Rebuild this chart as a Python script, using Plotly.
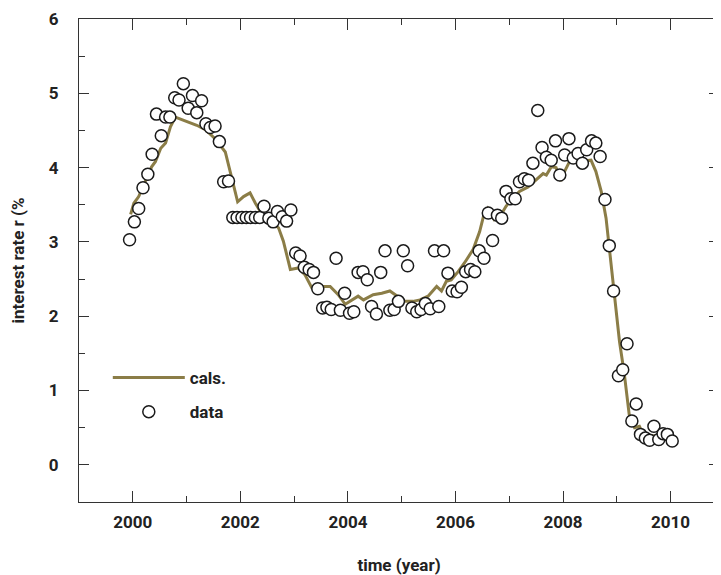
import plotly.graph_objects as go

# observed data (monthly), decimal year
data_t = [1999.94, 2000.03, 2000.11, 2000.19, 2000.28, 2000.36, 2000.44, 2000.53, 2000.61, 2000.69,
          2000.78, 2000.86, 2000.94, 2001.03, 2001.11, 2001.19, 2001.28, 2001.36, 2001.44, 2001.53,
          2001.61, 2001.69, 2001.78, 2001.86, 2001.94, 2002.03, 2002.11, 2002.19, 2002.28, 2002.36,
          2002.44, 2002.53, 2002.61, 2002.69, 2002.78, 2002.86, 2002.94, 2003.03, 2003.11, 2003.19,
          2003.28, 2003.36, 2003.44, 2003.53, 2003.61, 2003.69, 2003.78, 2003.86, 2003.94, 2004.03,
          2004.11, 2004.19, 2004.28, 2004.36, 2004.44, 2004.53, 2004.61, 2004.69, 2004.78, 2004.86,
          2004.94, 2005.03, 2005.11, 2005.19, 2005.28, 2005.36, 2005.44, 2005.53, 2005.61, 2005.69,
          2005.78, 2005.86, 2005.94, 2006.03, 2006.11, 2006.19, 2006.28, 2006.36, 2006.44, 2006.53,
          2006.61, 2006.69, 2006.78, 2006.86, 2006.94, 2007.03, 2007.11, 2007.19, 2007.28, 2007.36,
          2007.44, 2007.53, 2007.61, 2007.69, 2007.78, 2007.86, 2007.94, 2008.03, 2008.11, 2008.19,
          2008.28, 2008.36, 2008.44, 2008.53, 2008.61, 2008.69, 2008.78, 2008.86, 2008.94, 2009.03,
          2009.11, 2009.19, 2009.28, 2009.36, 2009.44, 2009.53, 2009.61, 2009.69, 2009.78, 2009.86,
          2009.94, 2010.03]
data_r = [3.03, 3.27, 3.45, 3.73, 3.91, 4.18, 4.72, 4.43, 4.68, 4.68,
          4.94, 4.91, 5.13, 4.80, 4.97, 4.74, 4.90, 4.59, 4.54, 4.56,
          4.35, 3.81, 3.82, 3.33, 3.33, 3.33, 3.33, 3.33, 3.33, 3.33,
          3.48, 3.32, 3.27, 3.41, 3.34, 3.28, 3.43, 2.85, 2.81, 2.66,
          2.63, 2.59, 2.37, 2.11, 2.12, 2.09, 2.78, 2.08, 2.31, 2.04,
          2.06, 2.59, 2.60, 2.49, 2.13, 2.03, 2.59, 2.88, 2.08, 2.09,
          2.20, 2.88, 2.68, 2.11, 2.06, 2.09, 2.17, 2.10, 2.88, 2.13,
          2.88, 2.58, 2.34, 2.33, 2.39, 2.60, 2.63, 2.60, 2.88, 2.78,
          3.39, 3.02, 3.36, 3.32, 3.68, 3.58, 3.58, 3.81, 3.85, 3.83,
          4.06, 4.77, 4.27, 4.14, 4.10, 4.36, 3.90, 4.17, 4.39, 4.13,
          4.19, 4.06, 4.24, 4.36, 4.33, 4.15, 3.57, 2.95, 2.34, 1.20,
          1.28, 1.63, 0.59, 0.82, 0.41, 0.36, 0.33, 0.52, 0.34, 0.42,
          0.41, 0.32]

# calculated curve
cals_t = [1999.96, 2000.02, 2000.11, 2000.19, 2000.35, 2000.42, 2000.52, 2000.61, 2000.70, 2000.79,
          2000.98, 2001.19, 2001.35, 2001.53, 2001.72, 2001.84, 2001.95, 2002.06, 2002.18, 2002.28,
          2002.43, 2002.58, 2002.71, 2002.80, 2002.93, 2003.08, 2003.20, 2003.33, 2003.54, 2003.67,
          2003.82, 2003.95, 2004.07, 2004.19, 2004.29, 2004.38, 2004.47, 2004.63, 2004.78, 2004.94,
          2005.06, 2005.21, 2005.34, 2005.49, 2005.65, 2005.74, 2005.83, 2005.92, 2006.05, 2006.17,
          2006.33, 2006.45, 2006.53, 2006.60, 2006.72, 2006.85, 2006.94, 2007.04, 2007.19, 2007.35,
          2007.53, 2007.63, 2007.69, 2007.78, 2007.87, 2007.96, 2008.03, 2008.12, 2008.27, 2008.52,
          2008.61, 2008.71, 2008.80, 2008.86, 2008.96, 2009.05, 2009.14, 2009.23, 2009.33, 2009.42,
          2009.48, 2009.63, 2009.79, 2009.92, 2010.04]
cals_r = [3.37, 3.52, 3.61, 3.74, 4.01, 4.08, 4.26, 4.33, 4.55, 4.68,
          4.63, 4.57, 4.51, 4.39, 4.21, 3.86, 3.54, 3.61, 3.66, 3.52,
          3.34, 3.27, 3.19, 3.01, 2.63, 2.65, 2.56, 2.38, 2.40, 2.40,
          2.29, 2.16, 2.22, 2.27, 2.22, 2.25, 2.29, 2.31, 2.34, 2.26,
          2.20, 2.20, 2.22, 2.27, 2.40, 2.34, 2.47, 2.49, 2.60, 2.72,
          2.90, 3.14, 3.37, 3.45, 3.30, 3.37, 3.48, 3.57, 3.68, 3.74,
          3.85, 3.92, 3.90, 4.01, 4.00, 3.82, 3.95, 4.08, 4.08, 4.10,
          3.95, 3.68, 3.32, 2.92, 2.25, 1.66, 1.22, 0.68, 0.50, 0.52,
          0.43, 0.39, 0.39, 0.34, 0.32]

x_ticks = [2000, 2002, 2004, 2006, 2008, 2010]
y_ticks = [0, 1, 2, 3, 4, 5, 6]

FONT = "Roboto"
TXT = "#222222"
AX = "#333333"
LINE_C = "#8b7d47"
FS = 17

fig = go.Figure()
fig.add_trace(go.Scatter(x=cals_t, y=cals_r, mode="lines", name="cals.",
                         line=dict(color=LINE_C, width=3), legendgroup="a"))
fig.add_trace(go.Scatter(x=data_t, y=data_r, mode="markers", name="data",
                         marker=dict(symbol="circle", size=12, color="white",
                                     line=dict(color="#1a1a1a", width=1.5)),
                         legendgroup="b"))

axis_common = dict(showgrid=False, zeroline=False, showline=True, linecolor=AX,
                   linewidth=1.3, mirror="ticks", ticks="inside", tickcolor=AX,
                   tickwidth=1.2, ticklabeloverflow="allow",
                   tickfont=dict(family=FONT, size=FS, color=TXT, weight="bold"))

fig.update_xaxes(range=[1999, 2010.9], tickvals=x_ticks, ticklen=11,
                 minor=dict(ticks="inside", dtick=1, ticklen=6, tickcolor=AX, tickwidth=1.2),
                 ticklabelstandoff=4,
                 title=dict(text="time (year)", standoff=28,
                            font=dict(family=FONT, size=FS, color=TXT, weight="bold")),
                 **axis_common)
fig.update_yaxes(range=[-0.5, 6], tickvals=y_ticks, ticklen=10,
                 minor=dict(ticks="inside", dtick=0.5, ticklen=6, tickcolor=AX, tickwidth=1.2),
                 ticklabelstandoff=16,
                 title=dict(text="interest rate r (%", standoff=27,
                            font=dict(family=FONT, size=FS, color=TXT, weight="bold")),
                 **axis_common)

# page body adds an 8px margin, so the figure is sized to fit the window
fig.update_layout(
    width=713, height=567,
    margin=dict(l=71, r=1, t=9, b=73),
    paper_bgcolor="white", plot_bgcolor="white",
    showlegend=True,
    legend=dict(x=0.045, y=0.294, xanchor="left", yanchor="top",
                bgcolor="rgba(0,0,0,0)", traceorder="grouped", tracegroupgap=9,
                font=dict(family=FONT, size=FS, color=TXT, weight="bold"),
                itemwidth=72),
)

fig.write_html("out.html")
